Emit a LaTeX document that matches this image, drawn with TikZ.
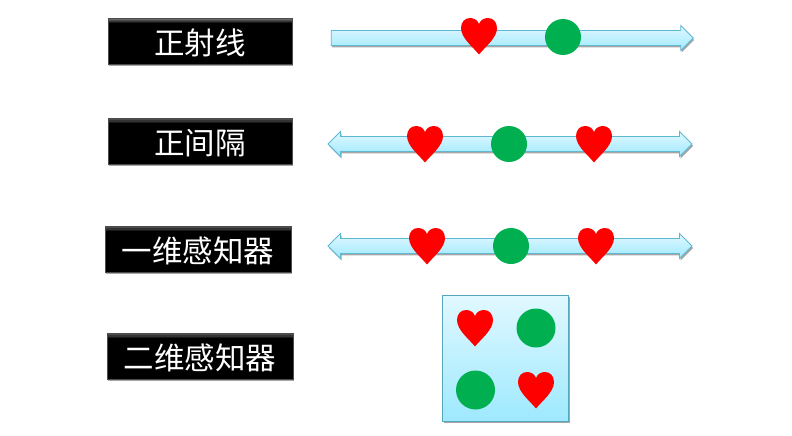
\documentclass[tikz,border=0pt]{standalone}
\usepackage{fontspec}
\newfontfamily\cjk{Noto Sans CJK SC}
\usetikzlibrary{shapes.arrows,shadows}
\definecolor{rayline}{HTML}{5FB8D2}
\definecolor{raytop}{HTML}{E1F8FF}
\definecolor{raybot}{HTML}{9EE9FF}
\definecolor{dotgreen}{HTML}{00B050}
\tikzset{
  softshadow/.style={drop shadow={shadow xshift=1pt,shadow yshift=-2pt,opacity=.35,fill=black}},
  labelbox/.style={draw=black!70,line width=.8pt,fill=black,minimum width=184pt,minimum height=46pt,
    inner sep=0pt,text=white,softshadow,text height=28pt,text depth=2pt,
    path picture={
      \foreach \k/\c in {1/60,2/70,3/80,4/90}
        \fill[black!\c] ([yshift={-(\k-1)*1.2pt}]path picture bounding box.north west)
          rectangle ([yshift={-\k*1.2pt}]path picture bounding box.north east);},
    font=\cjk\fontsize{30.5}{30.5}\selectfont},
  rayshape/.style={draw=rayline,line width=.8pt,top color=raytop,bottom color=raybot,inner sep=7pt,outer sep=0pt,
    minimum width=25pt,softshadow},
  dotmark/.style={circle,fill=dotgreen,inner sep=0pt,minimum size=#1},
  dotmark/.default=36pt,
  heartmark/.pic={
    \fill[red] (0,18.5) .. controls (-6,11) and (-18,2) .. (-18,-8)
      .. controls (-18,-14) and (-14,-18) .. (-9,-18)
      .. controls (-5,-18) and (-1.5,-16) .. (0,-12)
      .. controls (1.5,-16) and (5,-18) .. (9,-18)
      .. controls (14,-18) and (18,-14) .. (18,-8)
      .. controls (18,2) and (6,11) .. (0,18.5) -- cycle;
  }
}
\begin{document}
\begin{tikzpicture}[x=1pt,y=-1pt]
\useasboundingbox (0,0) rectangle (792,436);
% labels on the left
\node[labelbox] (ray) at (200,41.5) {正射线};
\node[labelbox] (interval) at (200,141) {正间隔};
\node[labelbox,minimum width=186pt] (oned) at (198,249) {一维感知器};
\node[labelbox,minimum width=186pt] (twod) at (200,356) {二维感知器};
% arrows
\node[rayshape,single arrow,single arrow head extend=5pt,single arrow head indent=0pt,
  minimum height=362pt] (rayarrow) at (508.5,38) {};
\node[rayshape,double arrow,double arrow head extend=5pt,double arrow head indent=0pt,
  minimum height=364pt] (intarrow) at (510,144) {};
\node[rayshape,double arrow,double arrow head extend=5pt,double arrow head indent=0pt,
  minimum height=364pt] (onearrow) at (510,246) {};
% square patch
\node[draw=rayline!90!black,line width=.9pt,top color=raytop,bottom color=raybot,minimum size=126pt,
  inner sep=0pt,softshadow] (patch) at (505.5,358) {};
% marks
\foreach \x/\y in {479/36,425/144,594/144,427/246,596/246,475/328,536/390}
  \pic at (\x,\y) {heartmark};
\node[dotmark] (raydot) at (563,37) {};
\node[dotmark] (intdot) at (509,144) {};
\node[dotmark] (onedot) at (511,246) {};
\node[dotmark=39pt] (patcha) at (536,328) {};
\node[dotmark=39pt] (patchb) at (475.5,390) {};
\end{tikzpicture}
\end{document}
